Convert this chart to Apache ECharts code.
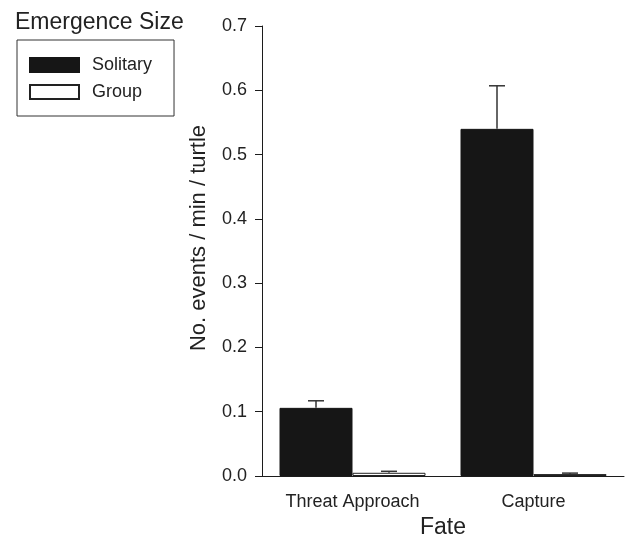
<!DOCTYPE html>
<html>
<head>
<meta charset="utf-8">
<title>Emergence Size</title>
<script src="https://cdn.jsdelivr.net/npm/echarts@6/dist/echarts.min.js"></script>
<style>
  html, body { margin: 0; padding: 0; background: #fff; }
  #chart { width: 625px; height: 538px; }
</style>
</head>
<body>
<div id="chart"></div>
<script>
// 데이터
const categories = ['Threat Approach', 'Capture'];
const seriesNames = ['Solitary', 'Group'];
const solitaryValues = [0.106, 0.540];
const solitaryUpper = [0.117, 0.607];
const groupValues = [0.005, 0.003];
const groupUpper = [0.0073, 0.0045];
const yTicks = [0, 0.1, 0.2, 0.3, 0.4, 0.5, 0.6, 0.7];

const FONT = '"Liberation Sans", Arial, Helvetica, sans-serif';
const INK = '#1c1c1c';
const BAR_WIDTH = 73;

// 에러바 (위쪽만)
function errorSeries(upper, values, offset) {
    return {
        type: 'custom',
        silent: true,
        z: 5,
        data: upper.map((u, i) => [i, values[i], u]),
        renderItem: (params, api) => {
            const base = api.coord([api.value(0), api.value(1)]);
            const top = api.coord([api.value(0), api.value(2)]);
            const x = base[0] + offset;
            const style = { stroke: '#333', lineWidth: 1.5 };
            return {
                type: 'group',
                children: [
                    { type: 'line', shape: { x1: x, y1: base[1], x2: x, y2: top[1] }, style },
                    { type: 'line', shape: { x1: x - 8, y1: top[1], x2: x + 8, y2: top[1] }, style }
                ]
            };
        }
    };
}

const chart = echarts.init(document.getElementById('chart'));

chart.setOption({
    animation: false,
    textStyle: { fontFamily: FONT },
    title: {
        text: 'Emergence Size',
        left: 10,
        top: 6,
        textStyle: { fontSize: 23, fontWeight: 'normal', color: '#222', fontFamily: FONT }
    },
    legend: {
        data: seriesNames,
        orient: 'vertical',
        left: 17,
        top: 40,
        padding: [16, 22, 15, 12],
        itemWidth: 49,
        itemHeight: 14,
        itemGap: 9,
        icon: 'rect',
        borderColor: '#333',
        borderWidth: 1,
        textStyle: { fontSize: 18, lineHeight: 18, color: '#222', fontFamily: FONT, padding: [0, 0, 0, 8] }
    },
    grid: {
        left: 262,
        top: 26,
        width: 362,
        height: 450,
        outerBoundsMode: 'none'
    },
    xAxis: {
        type: 'category',
        data: categories,
        name: 'Fate',
        nameLocation: 'middle',
        nameGap: 40,
        nameTextStyle: { fontSize: 23, color: '#222', fontFamily: FONT },
        axisLine: { lineStyle: { color: INK, width: 1 } },
        axisTick: { alignWithLabel: true, length: 7, lineStyle: { color: INK } },
        axisLabel: { fontSize: 18, color: '#222', margin: 17, fontFamily: FONT }
    },
    yAxis: {
        type: 'value',
        min: 0,
        max: 0.7,
        interval: 0.1,
        name: 'No. events / min / turtle',
        nameLocation: 'middle',
        nameGap: 52,
        nameTextStyle: { fontSize: 22, color: '#222', fontFamily: FONT, padding: [0, 0, 0, 26] },
        splitLine: { show: false },
        axisLine: { show: true, lineStyle: { color: INK, width: 1 } },
        axisTick: { show: true, length: 7, lineStyle: { color: INK } },
        axisLabel: {
            fontSize: 18,
            color: '#222',
            margin: 15,
            fontFamily: FONT,
            formatter: v => yTicks.includes(Math.round(v * 10) / 10) ? v.toFixed(1) : ''
        }
    },
    series: [
        {
            name: 'Solitary',
            type: 'bar',
            data: solitaryValues,
            barWidth: BAR_WIDTH,
            barGap: '0%',
            itemStyle: { color: '#161616', borderColor: '#161616', borderWidth: 1 }
        },
        {
            name: 'Group',
            type: 'bar',
            data: groupValues,
            barWidth: BAR_WIDTH,
            barGap: '0%',
            itemStyle: { color: '#ffffff', borderColor: '#222', borderWidth: 1 }
        },
        errorSeries(solitaryUpper, solitaryValues, -BAR_WIDTH / 2),
        errorSeries(groupUpper, groupValues, BAR_WIDTH / 2)
    ]
});
</script>
</body>
</html>
